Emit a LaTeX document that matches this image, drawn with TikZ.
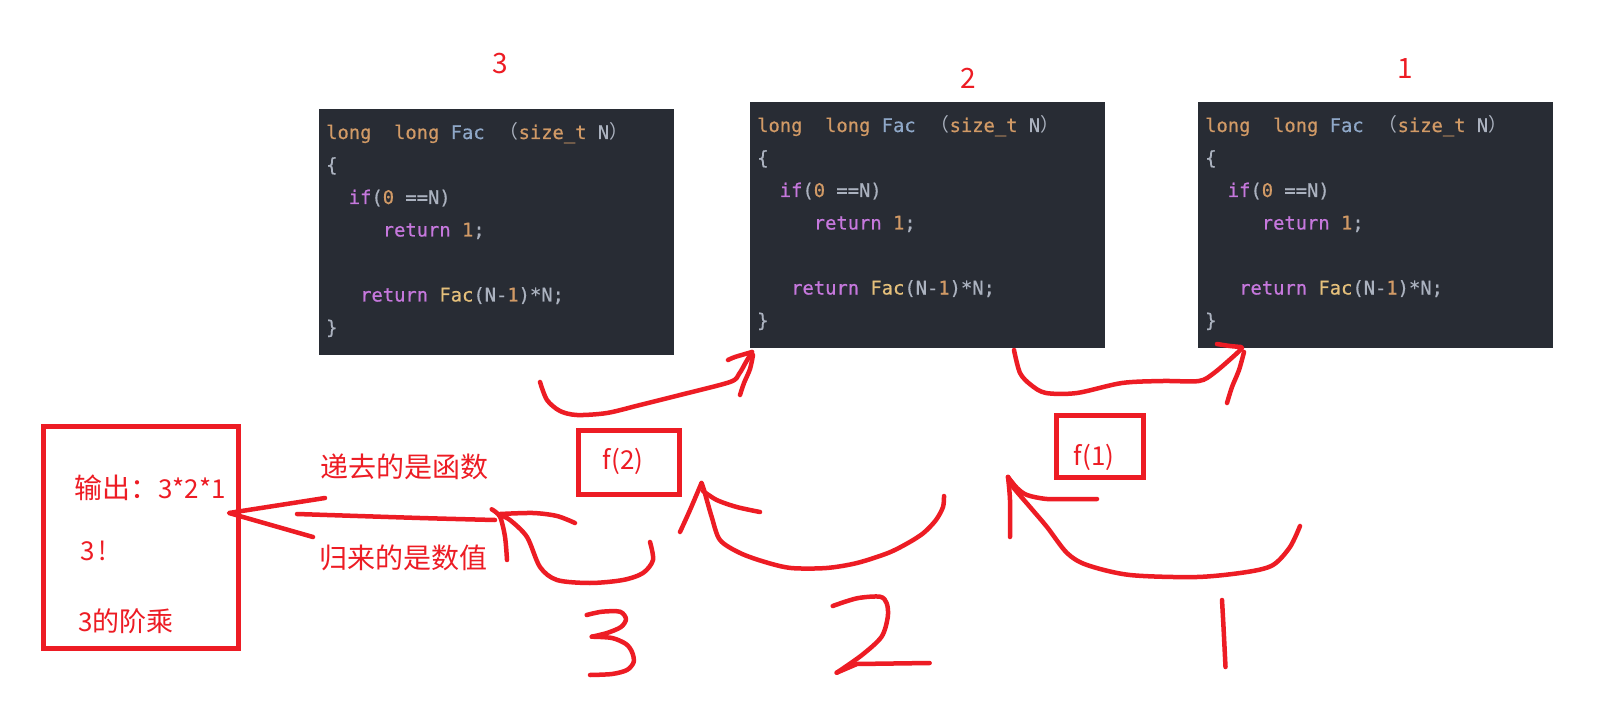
\documentclass[tikz,border=0pt]{standalone}
\usepackage{fontspec}
\usetikzlibrary{calc}
\newfontfamily\codefont[FakeBold=0.6]{DejaVu Sans Mono}
\newfontfamily\cjk{Noto Sans CJK SC}
\definecolor{pred}{HTML}{ED1C24}
\definecolor{codebg}{HTML}{282C34}
\definecolor{ckw}{HTML}{D19A66}
\definecolor{cfn}{HTML}{8FA8C8}
\definecolor{cfg}{HTML}{ABB2BF}
\definecolor{cpu}{HTML}{C678DD}
\definecolor{cyl}{HTML}{E5C07B}
\newlength\codecw
\setlength\codecw{11.32pt}
\tikzset{
  codebox/.style={fill=codebg, draw=none, minimum width=355pt, minimum height=246pt, inner sep=0pt, anchor=north west},
  codeline/.style={anchor=base west, inner sep=0pt, font=\codefont\fontsize{18.8}{20}\selectfont},
  hand/.style={draw=pred, line width=4.5pt, line cap=round, line join=round},
  redbox/.style={draw=pred, line width=4.7pt, inner sep=0pt},
  lab/.style={text=pred, inner sep=0pt, font=\cjk},
}
\newcommand\codeblock[2]{%
  \node[codebox] (#1) at (#2) {};
  \node[codeline] (#1-1) at ($(#1.north west)+(7,30)$) {{\color{ckw}long}\hspace{2\codecw}{\color{ckw}long}\hspace{\codecw}{\color{cfn}Fac}\hspace{\codecw}\makebox[2\codecw][r]{\cjk\color{cfg}（}{\color{ckw}size\_t}\hspace{\codecw}{\color{cfg}N}\makebox[2\codecw][l]{\cjk\color{cfg}）}};
  \node[codeline] (#1-2) at ($(#1.north west)+(7,62.5)$) {\color{cfg}\{};
  \node[codeline] (#1-3) at ($(#1.north west)+(29.6,95)$) {{\color{cpu}if}{\color{cfg}(}{\color{ckw}0}\hspace{\codecw}{\color{cfg}==N)}};
  \node[codeline] (#1-4) at ($(#1.north west)+(63.6,127.5)$) {{\color{cpu}return}\hspace{\codecw}{\color{ckw}1}{\color{cfg};}};
  \node[codeline] (#1-6) at ($(#1.north west)+(41,192.5)$) {{\color{cpu}return}\hspace{\codecw}{\color{cyl}Fac}{\color{cfg}(N-}{\color{ckw}1}{\color{cfg})*N;}};
  \node[codeline] (#1-7) at ($(#1.north west)+(7,225)$) {\color{cfg}\}};
}
\begin{document}
\begin{tikzpicture}[x=1pt,y=-1pt]
\useasboundingbox (0,0) rectangle (1598,711);
\fill[white] (0,0) rectangle (1598,711);

% code boxes
\codeblock{b1}{319,109}
\codeblock{b2}{750,102}
\codeblock{b3}{1198,102}

% top numbers
\node[lab, font=\cjk\fontsize{28}{30}\selectfont] (n3) at (500.5,64) {3};
\node[lab, font=\cjk\fontsize{28}{30}\selectfont] (n2) at (968,78) {2};
\node[lab, font=\cjk\fontsize{28}{30}\selectfont] (n1) at (1405,69) {1};

% output box
\node[redbox, minimum width=195pt, minimum height=222pt] (out) at (141,537.5) {};
\node[lab, anchor=base west] (o1) at (74,498) {{\fontsize{28}{30}\selectfont 输出：}{\fontsize{26}{28}\selectfont 3*2*1}};
\node[lab, anchor=base west, font=\cjk\fontsize{26}{28}\selectfont] (o2) at (80,560) {3\,!};
\node[lab, anchor=base west] (o3) at (78,631) {{\fontsize{26}{28}\selectfont 3}{\fontsize{27}{29}\selectfont 的阶乘}};

% side labels
\node[lab, anchor=base west, font=\cjk\fontsize{28}{30}\selectfont] (go) at (320,477) {递去的是函数};
\node[lab, anchor=base west, font=\cjk\fontsize{28}{30}\selectfont] (back) at (319,568) {归来的是数值};

% f boxes
\node[redbox, minimum width=101pt, minimum height=64pt] (f2box) at (629,462.5) {};
\node[lab, font=\cjk\fontsize{26}{28}\selectfont] (f2) at (623,461) {f(2)};
\node[redbox, minimum width=87pt, minimum height=62.4pt] (f1box) at (1099.8,446.5) {};
\node[lab, font=\cjk\fontsize{26}{28}\selectfont] (f1) at (1094,457) {f(1)};

% curve A: box1 -> box2
\draw[hand] plot[smooth, tension=0.5] coordinates {(540,382) (547,400) (560,411) (577,415) (607,413) (640,405) (680,395) (730,382) (739,374) (746,362) (752,352)};
\draw[hand] plot[smooth, tension=0.5] coordinates {(728,360) (735,357) (752,352)};
\draw[hand] plot[smooth, tension=0.5] coordinates {(740,395) (744,383) (750,369) (753,355)};

% curve B: box2 -> box3
\draw[hand] plot[smooth, tension=0.5] coordinates {(1014,350) (1020,373) (1031,385) (1046,393) (1077,393) (1122,383) (1163,381) (1199,381) (1214,373) (1235,355) (1242,348)};
\draw[hand] plot[smooth, tension=0.5] coordinates {(1217,344) (1230,346) (1241,347)};
\draw[hand] plot[smooth, tension=0.5] coordinates {(1227,403) (1232,387) (1239,370) (1244,352)};

% curve C: return into f(2)
\draw[hand] plot[smooth, tension=0.5] coordinates {(944,496) (943,507) (936,520) (923.5,533) (908,543) (888,553) (857,563) (826.5,568) (791,568) (765,562) (740,553) (720,540) (711.7,517) (704,490) (701.5,483)};
\draw[hand] plot[smooth, tension=0.5] coordinates {(701.5,483) (690,510) (680,532)};
\draw[hand] plot[smooth, tension=0.5] coordinates {(703,491) (716.7,500) (736.7,507) (760,512)};

% curve D: return left of f(2)
\draw[hand] plot[smooth, tension=0.5] coordinates {(650,542) (653,560) (643,573) (623,580) (590,583) (557,580) (540,567) (527,537) (510,520) (500,515)};
\draw[hand] plot[smooth, tension=0.5] coordinates {(491.7,509.3) (500,516.7) (505,536.7) (507,560)};
\draw[hand] plot[smooth, tension=0.5] coordinates {(500,514) (533,513) (557,516) (575,523)};
\draw[hand] plot[smooth, tension=0.5] coordinates {(297,514) (420,518) (495,520)};
\draw[hand] (325,498) -- (229,513) -- (313,537);

% curve E: return into f(1) area
\draw[hand] plot[smooth, tension=0.5] coordinates {(1300,526) (1290,547) (1273,565) (1247,572) (1197,577) (1130,575) (1087,565) (1067,553) (1047,527) (1030,507) (1013,487) (1008,477)};
\draw[hand] plot[smooth, tension=0.5] coordinates {(1008,477) (1010,500) (1010,537)};
\draw[hand] plot[smooth, tension=0.5] coordinates {(1008,477) (1017,488) (1027,495) (1047,499) (1077,499) (1097,499)};

% hand-written numerals
\draw[hand] plot[smooth, tension=0.5] coordinates {(586.7,615) (602,611.7) (620,611.7) (626,619) (621,627) (607,633) (591.8,636.7)};
\draw[hand] plot[smooth, tension=0.5] coordinates {(591.8,636.7) (612,638) (626,644) (632,652) (633.7,662) (627,670) (612,674) (590,675)};
\draw[hand] plot[smooth, tension=0.5] coordinates {(832.7,606) (857,598.3) (880,596.7) (886.7,603.3) (887.8,616.7) (881.6,636.7) (862,655) (836.7,672.7)};
\draw[hand] (836.7,672.7) -- (857,664) -- (929.6,663);
\draw[hand] plot[smooth, tension=0.5] coordinates {(1222,600) (1223.5,627) (1225.5,667)};
\end{tikzpicture}
\end{document}
